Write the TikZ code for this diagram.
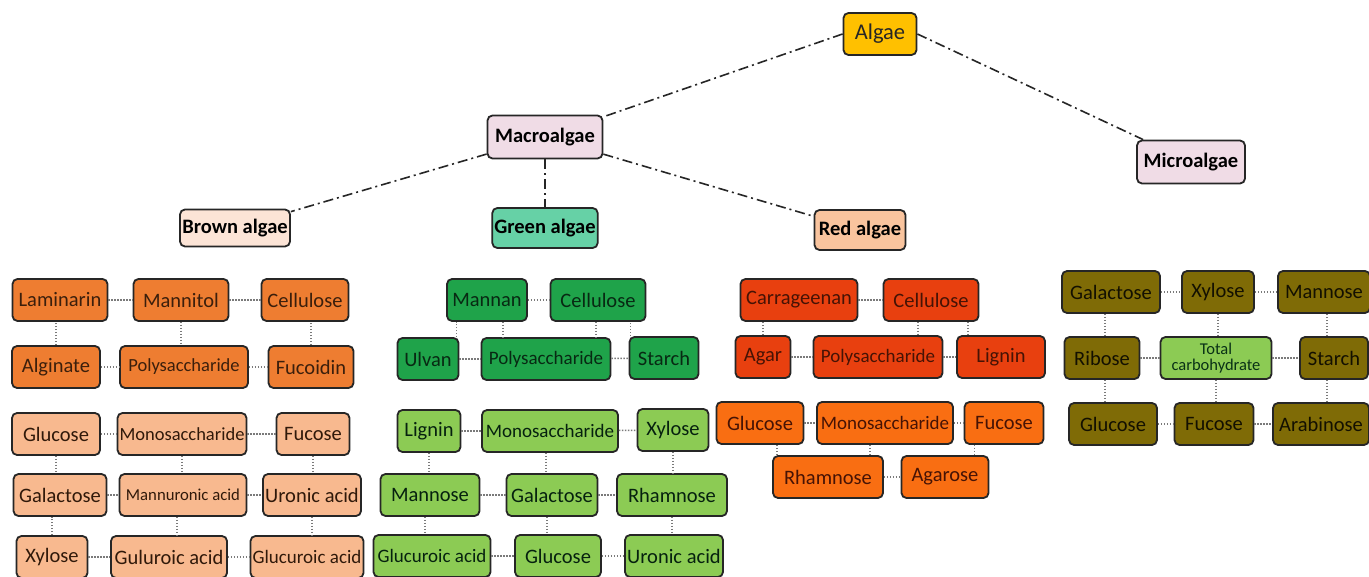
\documentclass[tikz,border=0pt]{standalone}
\usepackage{fontspec}
\setmainfont{Carlito}

\definecolor{boxline}{HTML}{262626}
\definecolor{linkgray}{HTML}{7A7A7A}
\definecolor{algaecol}{HTML}{FFC000}
\definecolor{pinkcol}{HTML}{F0DCE6}
\definecolor{browncol}{HTML}{FCE4D6}
\definecolor{greencol}{HTML}{66D1A6}
\definecolor{redcol}{HTML}{F9C49E}
\definecolor{bdark}{HTML}{EE7D31}
\definecolor{blight}{HTML}{F8B98F}
\definecolor{gdark}{HTML}{1FA34A}
\definecolor{glight}{HTML}{8CCB54}
\definecolor{rdark}{HTML}{E8400F}
\definecolor{rlight}{HTML}{F96E12}
\definecolor{olive}{HTML}{7F6B06}

\tikzstyle{box} = [rectangle, rounded corners=5, draw=boxline, line width=1.8, minimum height=42, inner xsep=2, inner ysep=3, text centered, font=\fontsize{20.5}{22}\selectfont]
\tikzstyle{head} = [box, font=\bfseries\fontsize{20.5}{22}\selectfont, text=black]
\tikzstyle{darkbrown} = [box, fill=bdark, text=black!75!bdark]
\tikzstyle{lightbrown} = [box, fill=blight, text=black!80!bdark]
\tikzstyle{darkgreen} = [box, fill=gdark, text=black!75!gdark]
\tikzstyle{lightgreen} = [box, fill=glight, text=black!80!gdark]
\tikzstyle{darkred} = [box, fill=rdark, text=black!70!rdark]
\tikzstyle{lightred} = [box, fill=rlight, text=black!70!rdark]
\tikzstyle{olivebox} = [box, fill=olive, text=black!85!olive]
\tikzstyle{tree} = [draw=black!85, line width=1.6, dash pattern=on 10 off 4 on 2 off 4]
\tikzstyle{link} = [draw=linkgray, line width=1.5, dash pattern=on 1.5 off 1.5]
\tikzstyle{small} = [font=\fontsize{19}{21}\selectfont]

\begin{document}
\begin{tikzpicture}[x=1pt, y=-1pt]
\path[use as bounding box, fill=white] (0,0) rectangle (1369,577);

% top of the tree
\node (algae) [box, fill=algaecol, minimum width=73, font=\fontsize{22.5}{24}\selectfont, text=black!85] at (880,34) {Algae};
\node (macro) [head, fill=pinkcol, minimum width=115, minimum height=43] at (545,137) {Macroalgae};
\node (micro) [head, fill=pinkcol, minimum width=108, minimum height=43] at (1191,162) {Microalgae};
\node (brown) [head, fill=browncol, minimum width=110, minimum height=37] at (235,228) {Brown algae};
\node (green) [head, fill=greencol, minimum width=105, minimum height=40] at (545,228) {Green algae};
\node (red) [head, fill=redcol, minimum width=91, minimum height=40] at (860,230) {Red algae};

\draw[tree] (algae.west) -- (macro);
\draw[tree] (algae.east) -- (micro);
\draw[tree] (macro) -- (brown);
\draw[tree] (macro) -- (green);
\draw[tree] (macro) -- (red);

% brown algae
\node (b-lam) [darkbrown, minimum width=95] at (60,300) {Laminarin};
\node (b-man) [darkbrown, minimum width=95] at (181,300) {Mannitol};
\node (b-cel) [darkbrown, minimum width=87] at (305,300) {Cellulose};
\node (b-alg) [darkbrown, minimum width=88] at (56,367) {Alginate};
\node (b-pol) [darkbrown, font=\fontsize{18.5}{20}\selectfont, minimum width=128] at (184,367) {Polysaccharide};
\node (b-fuc) [darkbrown, minimum width=85] at (311,367) {Fucoidin};

\node (b-glc) [lightbrown, minimum width=88] at (56,434) {Glucose};
\node (b-mon) [lightbrown, font=\fontsize{18.5}{20}\selectfont, minimum width=126] at (182,434) {Monosaccharide};
\node (b-fco) [lightbrown, minimum width=73] at (313,434) {Fucose};
\node (b-gal) [lightbrown, minimum width=93] at (60,495) {Galactose};
\node (b-mnu) [lightbrown, font=\fontsize{16.7}{18}\selectfont, minimum width=127] at (183,495) {Mannuronic acid};
\node (b-uro) [lightbrown, minimum width=98] at (312,495) {Uronic acid};
\node (b-xyl) [lightbrown, minimum width=71] at (52,557) {Xylose};
\node (b-gul) [lightbrown, minimum width=116] at (169,557) {Guluroic acid};
\node (b-gcu) [lightbrown, small, minimum width=113] at (307,557) {Glucuroic acid};

\draw[link] (b-lam) -- (b-man);
\draw[link] (b-man) -- (b-cel);
\draw[link] (b-alg) -- (b-pol);
\draw[link] (b-pol) -- (b-fuc);
\draw[link] (b-alg.north) -- (b-alg.north |- b-lam.south);
\draw[link] (b-man.south) -- (b-man.south |- b-pol.north);
\draw[link] (b-fuc.north) -- (b-fuc.north |- b-cel.south);
\draw[link] (b-glc) -- (b-mon);
\draw[link] (b-mon) -- (b-fco);
\draw[link] (b-gal) -- (b-mnu);
\draw[link] (b-mnu) -- (b-uro);
\draw[link] (b-xyl) -- (b-gul);
\draw[link] (b-gul) -- (b-gcu);
\draw[link] (b-glc.south) -- (b-glc.south |- b-gal.north);
\draw[link] (b-mon.south) -- (b-mon.south |- b-mnu.north);
\draw[link] (b-fco.south) -- (b-fco.south |- b-uro.north);
\draw[link] (b-xyl.north) -- (b-xyl.north |- b-gal.south);
\draw[link] ([xshift=-6]b-mnu.south) -- ([xshift=-6]b-mnu.south |- b-gul.north);
\draw[link] (b-uro.south) -- (b-uro.south |- b-gcu.north);

% green algae
\node (g-man) [darkgreen, minimum width=80] at (487,300) {Mannan};
\node (g-cel) [darkgreen, minimum width=95] at (598,300) {Cellulose};
\node (g-ulv) [darkgreen, minimum width=61] at (428,359) {Ulvan};
\node (g-pol) [darkgreen, small, minimum width=129] at (546,359) {Polysaccharide};
\node (g-sta) [darkgreen, minimum width=69] at (664,358) {Starch};

\node (g-lig) [lightgreen, minimum width=63] at (429,431) {Lignin};
\node (g-mon) [lightgreen, small, minimum width=136] at (550,431) {Monosaccharide};
\node (g-xyl) [lightgreen, minimum width=71] at (673,430) {Xylose};
\node (g-mno) [lightgreen, minimum width=99] at (430,495) {Mannose};
\node (g-gal) [lightgreen, minimum width=91] at (552,495) {Galactose};
\node (g-rha) [lightgreen, minimum width=110] at (672,495) {Rhamnose};
\node (g-gcu) [lightgreen, small, minimum width=117] at (432,556) {Glucuroic acid};
\node (g-glc) [lightgreen, minimum width=86] at (558,556) {Glucose};
\node (g-uro) [lightgreen, minimum width=98] at (674,556) {Uronic acid};

\draw[link] (g-man) -- (g-cel);
\draw[link] (g-ulv) -- (g-pol);
\draw[link] (g-pol) -- (g-sta);
\draw[link] ([xshift=-3]g-ulv.north east) -- ([xshift=-3]g-ulv.north east |- g-man.south);
\draw[link] ([xshift=16]g-man.south) -- ([xshift=16]g-man.south |- g-pol.north);
\draw[link] ([xshift=-2]g-cel.south) -- ([xshift=-2]g-cel.south |- g-pol.north);
\draw[link] ([xshift=2]g-sta.north west) -- ([xshift=2]g-sta.north west |- g-cel.south);
\draw[link] (g-lig) -- (g-mon);
\draw[link] (g-mon) -- (g-xyl);
\draw[link] (g-mno) -- (g-gal);
\draw[link] (g-gal) -- (g-rha);
\draw[link] (g-gcu) -- (g-glc);
\draw[link] (g-glc) -- (g-uro);
\draw[link] (g-lig.south) -- (g-lig.south |- g-mno.north);
\draw[link] ([xshift=-4]g-mon.south) -- ([xshift=-4]g-mon.south |- g-gal.north);
\draw[link] (g-xyl.south) -- (g-xyl.south |- g-rha.north);
\draw[link] ([xshift=-5]g-mno.south) -- ([xshift=-5]g-mno.south |- g-gcu.north);
\draw[link] ([xshift=-5]g-gal.south) -- ([xshift=-5]g-gal.south |- g-glc.north);
\draw[link] (g-rha.south) -- (g-rha.south |- g-uro.north);

% red algae
\node (r-car) [darkred, minimum width=117] at (799,300) {Carrageenan};
\node (r-cel) [darkred, minimum width=95] at (931,300) {Cellulose};
\node (r-aga) [darkred, minimum width=55] at (763,357) {Agar};
\node (r-pol) [darkred, small, minimum width=129] at (878,357) {Polysaccharide};
\node (r-lig) [darkred, minimum width=88] at (1001,357) {Lignin};

\node (r-glc) [lightred, minimum width=87] at (760,423) {Glucose};
\node (r-mon) [lightred, small, minimum width=136] at (885,423) {Monosaccharide};
\node (r-fco) [lightred, minimum width=79] at (1004,423) {Fucose};
\node (r-rha) [lightred, minimum width=110] at (828,477) {Rhamnose};
\node (r-agr) [lightred, minimum width=87] at (945,477) {Agarose};

\draw[link] (r-car) -- (r-cel);
\draw[link] (r-aga) -- (r-pol);
\draw[link] (r-pol) -- (r-lig);
\draw[link] (r-aga.north) -- (r-aga.north |- r-car.south);
\draw[link] ([xshift=-13]r-cel.south) -- ([xshift=-13]r-cel.south |- r-pol.north);
\draw[link] ([xshift=12]r-lig.north west) -- ([xshift=12]r-lig.north west |- r-cel.south);
\draw[link] (r-glc) -- (r-mon);
\draw[link] (r-mon) -- (r-fco);
\draw[link] (r-rha) -- (r-agr);
\draw[link] ([xshift=5]r-rha.north west) -- ([xshift=5]r-rha.north west |- r-glc.south);
\draw[link] ([xshift=-14]r-rha.north east) -- ([xshift=-14]r-rha.north east |- r-mon.south);
\draw[link] ([xshift=11]r-fco.south west) -- ([xshift=11]r-fco.south west |- r-agr.north);

% microalgae
\node (m-gal) [olivebox, minimum width=98] at (1111,292) {Galactose};
\node (m-xyl) [olivebox, minimum width=72] at (1218,292) {Xylose};
\node (m-mno) [olivebox, minimum width=92] at (1324,292) {Mannose};
\node (m-rib) [olivebox, minimum width=75] at (1102,358) {Ribose};
\node (m-tot) [box, fill=glight, text=black!70!gdark, minimum width=111, align=center, font=\fontsize{16.5}{16}\selectfont] at (1216,358) {Total\\carbohydrate};
\node (m-sta) [olivebox, minimum width=68] at (1334,358) {Starch};
\node (m-glc) [olivebox, minimum width=88] at (1113,424) {Glucose};
\node (m-fco) [olivebox, minimum width=79] at (1214,424) {Fucose};
\node (m-ara) [olivebox, minimum width=96] at (1321,424) {Arabinose};

\draw[link] (m-gal) -- (m-xyl);
\draw[link] (m-xyl) -- (m-mno);
\draw[link] (m-rib) -- (m-tot);
\draw[link] (m-tot) -- (m-sta);
\draw[link] (m-glc) -- (m-fco);
\draw[link] (m-fco) -- (m-ara);
\draw[link] ([xshift=-6]m-gal.south) -- ([xshift=-6]m-gal.south |- m-rib.north);
\draw[link] (m-xyl.south) -- (m-xyl.south |- m-tot.north);
\draw[link] ([xshift=-7]m-sta.north) -- ([xshift=-7]m-sta.north |- m-mno.south);
\draw[link] ([xshift=3]m-rib.south) -- ([xshift=3]m-rib.south |- m-glc.north);
\draw[link] (m-tot.south) -- (m-tot.south |- m-fco.north);
\draw[link] ([xshift=-7]m-sta.south) -- ([xshift=-7]m-sta.south |- m-ara.north);
\end{tikzpicture}
\end{document}
